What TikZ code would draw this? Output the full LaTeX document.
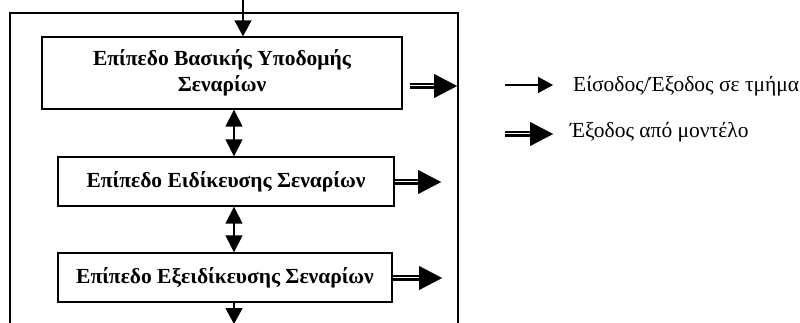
\documentclass[tikz,border=0pt]{standalone}
\usepackage{fontspec}
\setmainfont{Liberation Serif}
\usetikzlibrary{arrows.meta}
\tikzset{
  box/.style={draw, line width=1.4pt, inner sep=0pt, font=\bfseries\fontsize{21.5}{26}\selectfont, align=center},
  sarr/.style={line width=1.6pt, -{Triangle[length=16pt,width=17pt]}},
  biarr/.style={line width=1.6pt, {Triangle[length=17pt,width=17pt]}-{Triangle[length=17pt,width=17pt]}},
  dshaft/.style={double, double distance=2.6pt, line width=1.9pt},
  dhead/.style={line width=0.1pt, -{Triangle[length=23pt,width=24pt]}},
  legtext/.style={anchor=west, inner sep=0pt, font=\fontsize{21.5}{26}\selectfont}
}
\begin{document}
\begin{tikzpicture}[x=1pt,y=-1pt]
\useasboundingbox (0,0) rectangle (800,323);
% outer frame
\draw[line width=1.4pt] (10,340) -- (10,13) -- (458,13) -- (458,340);
% boxes
\node[box, minimum width=360pt, minimum height=72pt] (b1) at (222,73) {Επίπεδο Βασικής Υποδομής\\Σεναρίων};
\node[box, minimum width=336pt, minimum height=49pt] (b2) at (226,181.5) {Επίπεδο Ειδίκευσης Σεναρίων};
\node[box, minimum width=334pt, minimum height=49pt] (b3) at (225,277.5) {Επίπεδο Εξειδίκευσης Σεναρίων};
% vertical arrows
\coordinate (top) at (243,-2);
\draw[sarr] (top) -- (top |- b1.north);
\draw[biarr] (234,0 |- b1.south) -- (234,0 |- b2.north);
\draw[biarr] (234,0 |- b2.south) -- (234,0 |- b3.north);
\coordinate (bot) at (234,324);
\draw[sarr] (234,0 |- b3.south) -- (bot);
% double output arrows
\coordinate (o1s) at (410,86);
\coordinate (o1e) at (457,86);
\draw[dshaft] (o1s) -- ++(26,0);
\draw[dhead] (o1s) -- (o1e);
\coordinate (o2e) at (441,182);
\draw[dshaft] (b2.east |- o2e) -- ++(25,0);
\draw[dhead] (b2.east |- o2e) -- (o2e);
\coordinate (o3e) at (442,278);
\draw[dshaft] (b3.east |- o3e) -- ++(26,0);
\draw[dhead] (b3.east |- o3e) -- (o3e);
% legend
\coordinate (l1s) at (505,85);
\coordinate (l1e) at (553,85);
\draw[line width=1.6pt, -{Triangle[length=15pt,width=16pt]}] (l1s) -- (l1e);
\node[legtext] (t1) at (573,86) {Είσοδος/Έξοδος σε τμήμα};
\coordinate (l2s) at (505,134);
\coordinate (l2e) at (553,134);
\draw[dshaft] (l2s) -- ++(28,0);
\draw[dhead] (l2s) -- (l2e);
\node[legtext] (t2) at (570,132) {Έξοδος από μοντέλο};
\end{tikzpicture}
\end{document}
